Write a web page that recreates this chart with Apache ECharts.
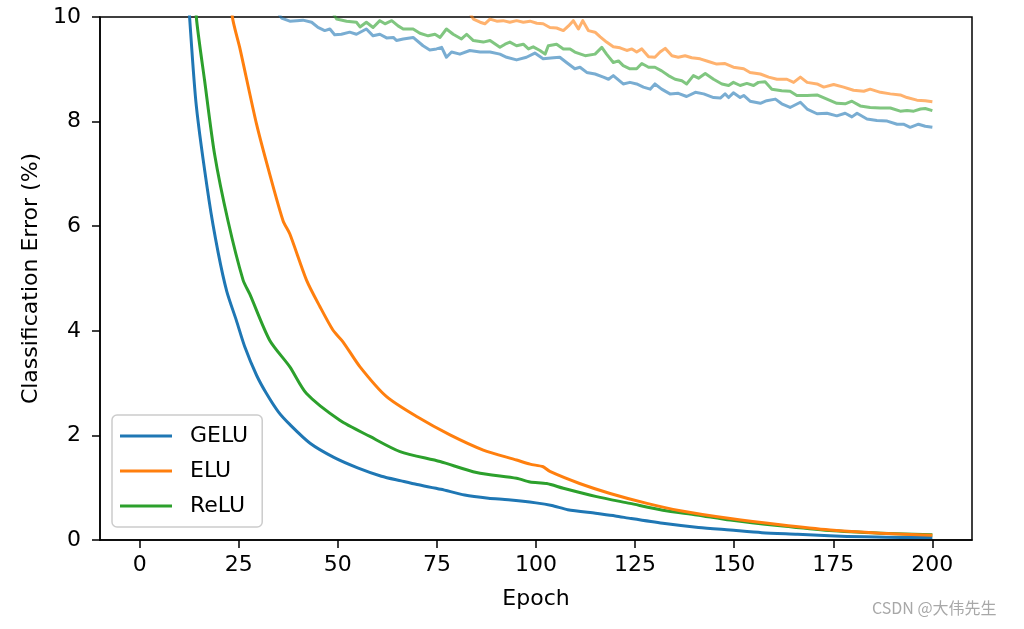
<!DOCTYPE html>
<html>
<head>
<meta charset="utf-8">
<script src="https://cdn.jsdelivr.net/npm/echarts@6/dist/echarts.min.js"></script>
<style>
  html, body { margin: 0; padding: 0; background: #fff; }
  #chart { width: 1024px; height: 629px; }
</style>
</head>
<body>
<div id="chart"></div>
<script>
// epoch ticks and axis range
var epochTicks = [0, 25, 50, 75, 100, 125, 150, 175, 200];
var errTicks = [0, 2, 4, 6, 8, 10];
var names = ['GELU', 'ELU', 'ReLU'];
var colors = ['#1f77b4', '#ff7f0e', '#2ca02c'];

// training error [epoch, %]
var geluTrain = [[11.8,11],[12.6,10.0],[14.3,8.3],[17.5,6.5],[19.8,5.5],[22,4.75],[24.4,4.2],[26.5,3.7],[29.5,3.15],[32,2.8],[35,2.45],[38,2.2],[43,1.85],[49,1.58],[55,1.38],[61,1.22],[66,1.13],[70,1.06],[76,0.97],[82,0.86],[88,0.8],[93,0.77],[100,0.71],[104,0.66],[108,0.58],[115,0.51],[120,0.46],[124,0.41],[132,0.32],[141,0.24],[149,0.19],[157,0.14],[166,0.11],[174,0.08],[183,0.06],[192,0.05],[200,0.05]];
var eluTrain = [[22.5,11],[23.4,10.0],[25.3,9.4],[29.5,7.95],[32.8,7.0],[36.2,6.1],[37.9,5.85],[42.1,4.97],[45.5,4.46],[48.8,4.01],[51.3,3.79],[55.6,3.31],[62.3,2.74],[69.9,2.36],[78.3,2.01],[86.7,1.72],[95.1,1.53],[98.5,1.45],[101.8,1.40],[103.5,1.31],[111,1.08],[118.7,0.89],[128,0.70],[136.4,0.56],[149,0.41],[161.6,0.29],[174.2,0.19],[186.9,0.13],[200,0.09]];
var reluTrain = [[13.8,11],[14.3,10.0],[16.4,8.78],[18.9,7.38],[22.3,6.1],[26.1,4.97],[27.8,4.70],[32.8,3.82],[37.9,3.31],[42.1,2.80],[50.5,2.29],[58.1,1.98],[65.7,1.69],[75.8,1.50],[85,1.29],[95.1,1.18],[98.5,1.11],[102.7,1.08],[106.9,0.99],[115.3,0.83],[123.7,0.70],[132,0.57],[140.6,0.48],[149,0.38],[161.6,0.27],[174,0.18],[187,0.13],[200,0.10]];

// test error [epoch, %]
var geluTest = [[33,10.3],[35.8,9.98],[37.9,9.92],[39.6,9.93],[41.2,9.94],[43.4,9.90],[45,9.80],[46.7,9.74],[48,9.77],[49.2,9.66],[50.9,9.67],[53,9.71],[54.7,9.67],[57.2,9.77],[58.9,9.64],[60.6,9.67],[62.3,9.60],[64,9.61],[64.8,9.55],[66.5,9.58],[69,9.61],[71.5,9.45],[73.2,9.37],[74.9,9.39],[76.2,9.42],[77.4,9.23],[78.7,9.33],[80.8,9.29],[83.3,9.36],[85.9,9.33],[88.4,9.33],[90.9,9.29],[92.6,9.23],[95.1,9.18],[97.6,9.23],[99.7,9.31],[101.8,9.20],[104.4,9.22],[106,9.23],[107.7,9.13],[109.8,9.01],[111.1,9.04],[112.8,8.94],[114.9,8.91],[117,8.85],[118.3,8.81],[119.5,8.88],[122,8.72],[123.7,8.75],[125.4,8.72],[127.1,8.66],[128.8,8.62],[130,8.72],[131.7,8.62],[133.8,8.53],[135.9,8.54],[138,8.48],[140.2,8.56],[142.3,8.53],[144.8,8.46],[146.5,8.45],[147.7,8.53],[148.6,8.46],[149.8,8.55],[151.5,8.46],[152.4,8.50],[154,8.39],[156.6,8.35],[158.2,8.40],[160.4,8.43],[162,8.34],[164.1,8.27],[166.7,8.37],[168.4,8.24],[170.9,8.15],[173.4,8.16],[175.9,8.11],[178,8.16],[179.7,8.09],[181,8.16],[183.5,8.05],[186,8.02],[188.6,8.01],[191.1,7.95],[192.7,7.95],[194.4,7.89],[196.5,7.95],[198.2,7.91],[200,7.89]];
var eluTest = [[81.5,10.3],[84.2,9.96],[85.9,9.90],[87.1,9.87],[88.4,9.96],[90.1,9.92],[91.7,9.93],[93.4,9.90],[95.1,9.93],[96.8,9.90],[98.5,9.92],[100.2,9.88],[101.8,9.87],[103.5,9.80],[105.2,9.79],[106.9,9.74],[108.2,9.83],[109.4,9.93],[110.7,9.77],[111.8,9.93],[113.2,9.74],[114.9,9.71],[116.2,9.62],[117.8,9.52],[119.5,9.43],[121.2,9.41],[122.9,9.36],[124.2,9.39],[125.4,9.33],[126.7,9.39],[128.4,9.24],[130,9.23],[131.3,9.33],[132.6,9.40],[134.3,9.26],[135.9,9.23],[137.6,9.26],[139.3,9.22],[141.4,9.20],[143.5,9.15],[145.6,9.10],[147.7,9.11],[149.8,9.04],[152.4,9.01],[154,8.94],[156.6,8.91],[158.7,8.85],[160.8,8.81],[163.3,8.81],[165,8.75],[166.7,8.85],[168.4,8.75],[170.9,8.72],[172.6,8.66],[175.1,8.71],[177.6,8.66],[180.1,8.60],[182.7,8.58],[184.3,8.62],[186.9,8.56],[189.4,8.53],[191.9,8.51],[193.6,8.46],[196.1,8.41],[198.2,8.40],[200,8.38]];
var reluTest = [[47,10.3],[49.7,9.96],[52.2,9.92],[54.7,9.90],[55.6,9.81],[57.2,9.90],[58.9,9.80],[60.6,9.93],[61.9,9.87],[63.6,9.93],[65.2,9.83],[66.5,9.77],[69,9.77],[70.7,9.69],[72.8,9.64],[74.5,9.67],[75.8,9.61],[77.4,9.77],[79.1,9.67],[81.2,9.58],[82.5,9.67],[84.2,9.55],[86.7,9.52],[88.4,9.55],[90.9,9.42],[92.2,9.48],[93.4,9.52],[95.1,9.45],[96.8,9.48],[98.1,9.39],[99.3,9.43],[101,9.36],[102.3,9.29],[103.1,9.45],[105.2,9.48],[106.9,9.39],[108.6,9.39],[109.8,9.33],[112.4,9.26],[114.9,9.29],[116.6,9.42],[117.8,9.29],[119.5,9.13],[120.8,9.16],[122,9.07],[123.7,9.01],[125.4,9.01],[126.7,9.11],[128.4,9.04],[130,9.04],[131.7,8.97],[133.4,8.88],[135.1,8.81],[136.8,8.78],[138,8.72],[139.7,8.88],[141,8.83],[142.7,8.92],[144.8,8.81],[146.9,8.72],[148.6,8.69],[149.8,8.75],[151.5,8.69],[153.2,8.73],[154.9,8.69],[156.1,8.75],[157.8,8.76],[159.5,8.62],[162,8.59],[164.1,8.58],[165.8,8.50],[168.4,8.50],[170.9,8.51],[173.4,8.43],[175.9,8.35],[178,8.34],[179.7,8.39],[181.8,8.30],[184.3,8.27],[186.9,8.26],[189.4,8.26],[191.9,8.20],[193.6,8.21],[195.3,8.20],[197,8.24],[198.2,8.25],[200,8.21]];

var FONT = 'DejaVu Sans';

function lineSeries(name, data, color, opacity, z, smooth) {
    return {
        name: name,
        type: 'line',
        data: data,
        showSymbol: false,
        symbol: 'none',
        clip: true,
        smooth: smooth,
        z: z,
        lineStyle: { color: color, width: 3, opacity: opacity, join: 'round' },
        itemStyle: { color: color },
        emphasis: { disabled: true }
    };
}

var chart = echarts.init(document.getElementById('chart'), null, { renderer: 'canvas' });

var option = {
    animation: false,
    backgroundColor: '#fff',
    grid: {
        left: 100, right: 52, top: 17, bottom: 89,
        containLabel: false,
        outerBoundsMode: 'none',
        show: true,
        borderColor: '#000',
        borderWidth: 1.5
    },
    legend: {
        data: names,
        orient: 'vertical',
        left: 112,
        top: 415,
        padding: [10, 14, 10, 8],
        itemWidth: 52,
        itemHeight: 3,
        itemGap: 13,
        icon: 'rect',
        backgroundColor: 'rgba(255,255,255,0.8)',
        borderColor: '#cccccc',
        borderWidth: 1.5,
        borderRadius: 5,
        textStyle: {
            fontFamily: FONT, fontSize: 22, color: '#000',
            lineHeight: 22, padding: [0, 0, 0, 13]
        }
    },
    xAxis: {
        type: 'value',
        min: -10,
        max: 210,
        name: 'Epoch',
        nameLocation: 'middle',
        nameGap: 48,
        nameTextStyle: { fontFamily: FONT, fontSize: 22, color: '#000' },
        axisLine: { show: true, onZero: false, lineStyle: { color: '#000', width: 1.5 } },
        axisTick: { show: true, length: 8, customValues: epochTicks, lineStyle: { color: '#000', width: 1.5 } },
        axisLabel: { customValues: epochTicks, margin: 14, fontFamily: FONT, fontSize: 22, color: '#000' },
        splitLine: { show: false }
    },
    yAxis: {
        type: 'value',
        min: 0,
        max: 10,
        interval: 2,
        name: 'Classification Error (%)',
        nameLocation: 'middle',
        nameGap: 57,
        nameTextStyle: { fontFamily: FONT, fontSize: 22, color: '#000' },
        axisLine: { show: true, onZero: false, lineStyle: { color: '#000', width: 1.5 } },
        axisTick: { show: true, length: 8, customValues: errTicks, lineStyle: { color: '#000', width: 1.5 } },
        axisLabel: { customValues: errTicks, margin: 19, fontFamily: FONT, fontSize: 22, color: '#000' },
        splitLine: { show: false }
    },
    series: [
        lineSeries('GELU test', geluTest, colors[0], 0.6, 2, false),
        lineSeries('ReLU test', reluTest, colors[2], 0.6, 2, false),
        lineSeries('ELU test', eluTest, colors[1], 0.6, 2, false),
        lineSeries('GELU', geluTrain, colors[0], 1, 3, 0.25),
        lineSeries('ReLU', reluTrain, colors[2], 1, 3, 0.25),
        lineSeries('ELU', eluTrain, colors[1], 1, 3, 0.25)
    ],
    graphic: [{
        type: 'text',
        left: 872,
        top: 600,
        style: {
            text: 'CSDN @大伟先生',
            fill: '#a8a8a8',
            fontSize: 16,
            fontFamily: '"Noto Sans CJK SC", "DejaVu Sans", sans-serif'
        }
    }]
};

chart.setOption(option);
</script>
</body>
</html>
